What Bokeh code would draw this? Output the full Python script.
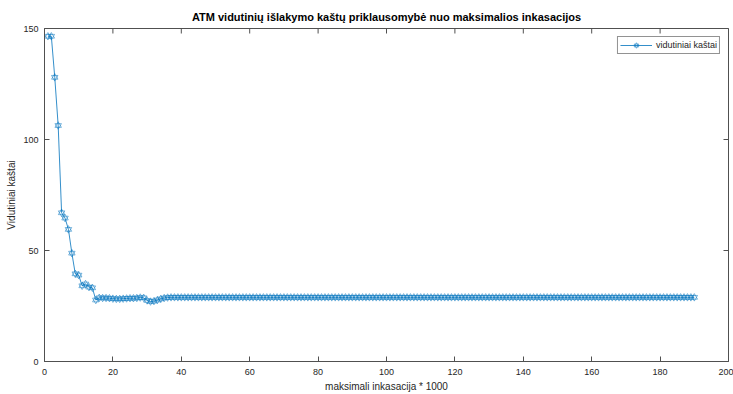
import math
from bokeh.plotting import figure
from bokeh.models import FixedTicker, Range1d
from bokeh.embed import file_html
from bokeh.resources import INLINE

# ---- data ----
x_values = list(range(1, 191))
avg_costs = [
    146.5, 146.5, 128.0, 106.3, 67.0, 64.6, 59.5, 48.8, 39.5, 38.9,
    34.1, 34.9, 33.5, 33.2, 27.7, 28.7, 28.6, 28.6, 28.5, 28.3,
    28.2, 28.2, 28.3, 28.4, 28.5, 28.5, 28.6, 28.8, 28.7, 27.5,
    27.0, 27.2, 27.7, 28.2, 28.6, 28.8,
    28.9, 28.9, 28.9, 28.9, 28.9, 28.9, 28.9, 28.9, 28.9, 28.9, 28.9, 28.9, 28.9, 28.9,
    28.9, 28.9, 28.9, 28.9, 28.9, 28.9, 28.9, 28.9, 28.9, 28.9, 28.9, 28.9, 28.9, 28.9,
    28.9, 28.9, 28.9, 28.9, 28.9, 28.9, 28.9, 28.9, 28.9, 28.9, 28.9, 28.9, 28.9, 28.9,
    28.9, 28.9, 28.9, 28.9, 28.9, 28.9, 28.9, 28.9, 28.9, 28.9, 28.9, 28.9, 28.9, 28.9,
    28.9, 28.9, 28.9, 28.9, 28.9, 28.9, 28.9, 28.9, 28.9, 28.9, 28.9, 28.9, 28.9, 28.9,
    28.9, 28.9, 28.9, 28.9, 28.9, 28.9, 28.9, 28.9, 28.9, 28.9, 28.9, 28.9, 28.9, 28.9,
    28.9, 28.9, 28.9, 28.9, 28.9, 28.9, 28.9, 28.9, 28.9, 28.9, 28.9, 28.9, 28.9, 28.9,
    28.9, 28.9, 28.9, 28.9, 28.9, 28.9, 28.9, 28.9, 28.9, 28.9, 28.9, 28.9, 28.9, 28.9,
    28.9, 28.9, 28.9, 28.9, 28.9, 28.9, 28.9, 28.9, 28.9, 28.9, 28.9, 28.9, 28.9, 28.9,
    28.9, 28.9, 28.9, 28.9, 28.9, 28.9, 28.9, 28.9, 28.9, 28.9, 28.9, 28.9, 28.9, 28.9,
    28.9, 28.9, 28.9, 28.9, 28.9, 28.9, 28.9, 28.9, 28.9, 28.9, 28.9, 28.9, 28.9, 28.9,
]
x_limits = [0, 200]
y_limits = [0, 150]
x_ticks = [0, 20, 40, 60, 80, 100, 120, 140, 160, 180, 200]
y_ticks = [0, 50, 100, 150]

title_text = "ATM vidutinių išlakymo kaštų priklausomybė nuo maksimalios inkasacijos"
x_label = "maksimali inkasacija * 1000"
y_label = "Vidutiniai kaštai"
series_label = "vidutiniai kaštai"

FONT = "Liberation Sans"
AXIS_COLOR = "#505050"
TEXT_COLOR = "#262626"
LINE_COLOR = "#0072BD"

p = figure(width=733, height=394,
           x_range=Range1d(x_limits[0], x_limits[1]),
           y_range=Range1d(y_limits[0], y_limits[1]),
           output_backend="svg", toolbar_location=None, title=title_text,
           min_border_left=44, min_border_right=5, min_border_top=28,
           min_border_bottom=32)
p.xgrid.visible = False
p.ygrid.visible = False
p.outline_line_color = AXIS_COLOR
p.outline_line_width = 1
p.background_fill_color = "white"
p.border_fill_color = "white"

p.title.align = "center"
p.title.text_font = FONT
p.title.text_font_size = "11px"
p.title.text_font_style = "bold"
p.title.text_color = "#000000"
p.title.standoff = 11


def style_axis(ax):
    ax.axis_line_color = AXIS_COLOR
    ax.axis_line_width = 1
    ax.major_tick_line_color = AXIS_COLOR
    ax.major_tick_in = 5
    ax.major_tick_out = 0
    ax.minor_tick_in = 0
    ax.minor_tick_out = 0
    ax.major_label_text_font = FONT
    ax.major_label_text_color = TEXT_COLOR
    ax.major_label_text_font_size = "9px"
    ax.axis_label_text_font = FONT
    ax.axis_label_text_color = TEXT_COLOR
    ax.axis_label_text_font_style = "normal"
    ax.axis_label_text_font_size = "10px"


xa = p.xaxis[0]
xa.ticker = FixedTicker(ticks=x_ticks)
xa.axis_label = x_label
style_axis(xa)
xa.major_label_standoff = 7
xa.axis_label_standoff = 3

ya = p.yaxis[0]
ya.ticker = FixedTicker(ticks=y_ticks)
ya.axis_label = y_label
style_axis(ya)
ya.major_label_standoff = 6
ya.axis_label_standoff = 3

# inward tick marks on the top and right edges of the box (clipped to the frame)
p.scatter(x_ticks, [y_limits[1]] * len(x_ticks), marker="dash", angle=math.pi / 2,
          size=10, line_color=AXIS_COLOR, line_width=1)
p.scatter([x_limits[1]] * len(y_ticks), y_ticks, marker="dash",
          size=10, line_color=AXIS_COLOR, line_width=1)

p.line(x_values, avg_costs, line_color=LINE_COLOR, line_width=0.8, legend_label=series_label)
p.scatter(x_values, avg_costs, marker="triangle", size=6.5, fill_color=None,
          line_color=LINE_COLOR, line_width=0.6, line_alpha=0.85, legend_label=series_label)
p.scatter(x_values, avg_costs, marker="inverted_triangle", size=6.5, fill_color=None,
          line_color=LINE_COLOR, line_width=0.6, line_alpha=0.85, legend_label=series_label)

lg = p.legend[0]
lg.location = "top_right"
lg.margin = 8
lg.padding = 2
lg.spacing = 0
lg.glyph_width = 32
lg.glyph_height = 12
lg.label_standoff = 4
lg.label_text_font = FONT
lg.label_text_font_size = "9px"
lg.label_text_color = TEXT_COLOR
lg.border_line_color = "#262626"
lg.border_line_width = 1
lg.background_fill_color = "white"
lg.background_fill_alpha = 1

open("out.html", "w").write(file_html(p, INLINE))
